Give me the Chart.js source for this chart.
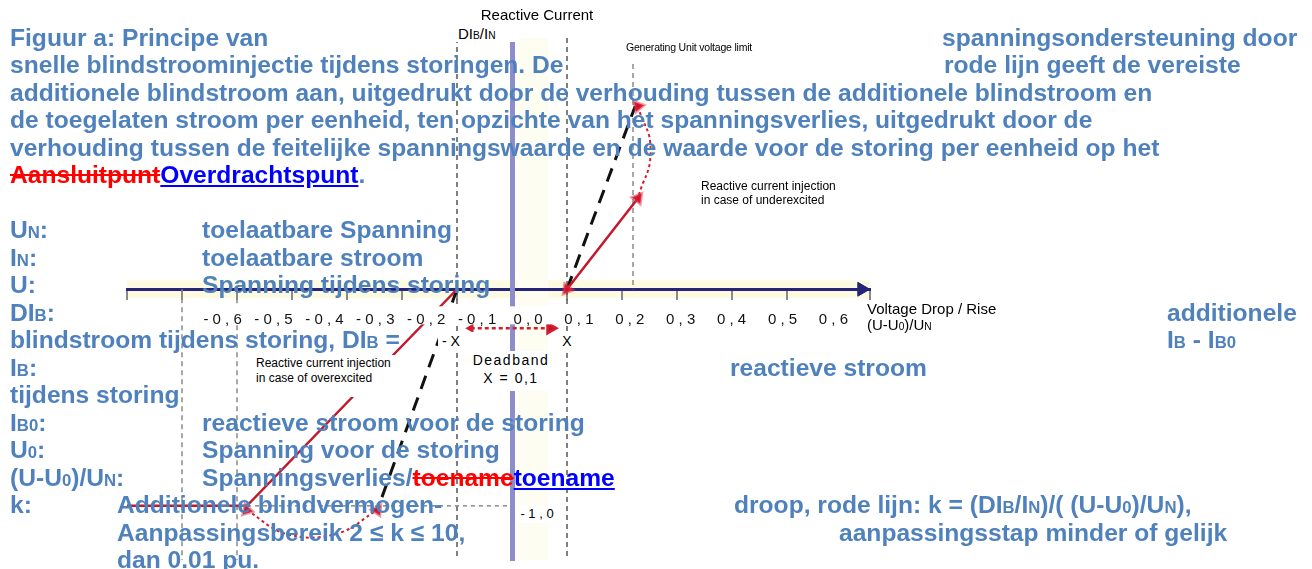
<!DOCTYPE html>
<html>
<head>
<meta charset="utf-8">
<script src="https://cdn.jsdelivr.net/npm/chart.js@4"></script>
<style>
body { margin: 0; background: #fff; }
#wrap { position: relative; width: 1312px; height: 569px; overflow: hidden; background: #fff; }
canvas { position: absolute; left: 0; top: 0; }
.t { position: absolute; white-space: nowrap; font: bold 24.6px "Liberation Sans", Arial, sans-serif; color: #4f81bd; line-height: 27.5px; z-index: 3; }
.s { font-size: 0.68em; }
.del { color: #ff0000; text-decoration: line-through; }
.ins { color: #0000ff; text-decoration: underline; }
.c { position: absolute; white-space: nowrap; font: 15px "Liberation Sans", Arial, sans-serif; color: #000; z-index: 2; }
.w { background: #fff; }
</style>
</head>
<body>
<div id="wrap">
<canvas id="chart" width="1312" height="569"></canvas>

<!-- labels of the diagram -->
<div class="c" style="left:537px;top:14px;transform:translate(-50%,-50%)">Reactive Current</div>
<div class="c w" style="left:456px;top:25px;width:62px;height:17px;line-height:17px;padding-left:2px">DI<span class="s">B</span>/I<span class="s">N</span></div>
<div class="c" style="left:689px;top:47px;transform:translate(-50%,-50%);font-size:10.5px;letter-spacing:-0.2px">Generating Unit voltage limit</div>
<div class="c" style="left:701px;top:179px;font-size:12px;line-height:14px">Reactive current injection<br>in case of underexcited</div>
<div class="c" style="left:867px;top:301px;line-height:16px">Voltage Drop / Rise<br>(U-U<span class="s">0</span>)/U<span class="s">N</span></div>
<div class="c w" style="left:438px;top:332px;width:40px;height:18px;line-height:18px;font-size:14px">&nbsp;- X</div>
<div class="c w" style="left:560px;top:333px;width:14px;height:17px;line-height:17px;font-size:14px;text-align:center">X</div>
<div class="c w" style="left:470px;top:351px;width:82px;height:40px;line-height:18px;font-size:14px;text-align:center;letter-spacing:1.5px">Deadband<br>X = 0,1</div>
<div class="c w" style="left:253px;top:355px;width:142px;height:42px;line-height:15px;font-size:12px;padding:1px 0 0 3px;box-sizing:border-box">Reactive current injection<br>in case of overexcited</div>
<div class="c w" style="left:518px;top:505px;width:38px;height:18px;line-height:18px;font-size:13px;text-align:center">- 1 , 0</div>

<!-- document text -->
<div class="t" style="left:10px;top:23.75px">Figuur a: Principe van</div>
<div class="t" style="left:942px;top:23.75px">spanningsondersteuning door</div>
<div class="t" style="left:10px;top:51.25px">snelle blindstroominjectie tijdens storingen. De</div>
<div class="t" style="left:944px;top:51.25px">rode lijn geeft de vereiste</div>
<div class="t" style="left:10px;top:78.75px">additionele blindstroom aan, uitgedrukt door de verhouding tussen de additionele blindstroom en</div>
<div class="t" style="left:10px;top:106.25px">de toegelaten stroom per eenheid, ten opzichte van het spanningsverlies, uitgedrukt door de</div>
<div class="t" style="left:10px;top:133.75px">verhouding tussen de feitelijke spanningswaarde en de waarde voor de storing per eenheid op het</div>
<div class="t" style="left:10px;top:161.25px"><span class="del">Aansluitpunt</span><span class="ins">Overdrachtspunt</span>.</div>

<div class="t" style="left:10px;top:216.25px">U<span class="s">N</span>:</div>
<div class="t" style="left:202px;top:216.25px">toelaatbare Spanning</div>
<div class="t" style="left:10px;top:243.75px">I<span class="s">N</span>:</div>
<div class="t" style="left:202px;top:243.75px">toelaatbare stroom</div>
<div class="t" style="left:10px;top:271.25px">U:</div>
<div class="t" style="left:202px;top:271.25px">Spanning tijdens storing</div>
<div class="t" style="left:10px;top:298.75px">DI<span class="s">B</span>:</div>
<div class="t" style="left:1167px;top:298.75px">additionele</div>
<div class="t" style="left:10px;top:326.25px">blindstroom tijdens storing, DI<span class="s">B</span> =</div>
<div class="t" style="left:1167px;top:326.25px">I<span class="s">B</span> - I<span class="s">B0</span></div>
<div class="t" style="left:10px;top:353.75px">I<span class="s">B</span>:</div>
<div class="t" style="left:730px;top:353.75px">reactieve stroom</div>
<div class="t" style="left:10px;top:381.25px">tijdens storing</div>
<div class="t" style="left:10px;top:408.75px">I<span class="s">B0</span>:</div>
<div class="t" style="left:202px;top:408.75px">reactieve stroom voor de storing</div>
<div class="t" style="left:10px;top:436.25px">U<span class="s">0</span>:</div>
<div class="t" style="left:202px;top:436.25px">Spanning voor de storing</div>
<div class="t" style="left:10px;top:463.75px">(U-U<span class="s">0</span>)/U<span class="s">N</span>:</div>
<div class="t" style="left:202px;top:463.75px">Spanningsverlies/<span class="del">toename</span><span class="ins">toename</span></div>
<div class="t" style="left:10px;top:491.25px">k:</div>
<div class="t" style="left:117px;top:491.25px">Additionele blindvermogen-</div>
<div class="t" style="left:734px;top:491.25px">droop, rode lijn: k = (DI<span class="s">B</span>/I<span class="s">N</span>)/( (U-U<span class="s">0</span>)/U<span class="s">N</span>),</div>
<div class="t" style="left:117px;top:518.75px">Aanpassingsbereik 2 ≤ k ≤ 10,</div>
<div class="t" style="left:839px;top:518.75px">aanpassingsstap minder of gelijk</div>
<div class="t" style="left:117px;top:546.25px">dan 0.01 pu.</div>
</div>

<script>
// tick labels of the voltage axis
const tickValues = [-0.6, -0.5, -0.4, -0.3, -0.2, -0.1, 0, 0.1, 0.2, 0.3, 0.4, 0.5, 0.6];
const tickLabels = ['- 0 , 6', '- 0 , 5', '- 0 , 4', '- 0 , 3', '- 0 , 2', '- 0 , 1',
                    '0 , 0', '0 , 1', '0 , 2', '0 , 3', '0 , 4', '0 , 5', '0 , 6'];

// red line: required additional reactive current
const underX = [0.1, 0.229];
const underY = [0, 0.42];
const overX = [-0.1, -0.482, -0.7];
const overY = [0, -1.0, -1.0];

// black dashed: generating unit voltage limit
const limUpX = [0.1, 0.224];
const limUpY = [0, 0.845];
const limLowX = [-0.1, -0.245];
const limLowY = [0, -1.02];

// red dotted return curves
const loopUpX = [0.229, 0.252, 0.229];
const loopUpY = [0.845, 0.64, 0.42];
const loopLowX = [-0.482, -0.41, -0.32, -0.245];
const loopLowY = [-1.02, -1.13, -1.13, -1.02];

// red markers
const markX = [0.229, 0.229, -0.482, -0.245, 0.1];
const markY = [0.845, 0.42, -1.02, -1.02, 0];

// deadband arrow
const deadX = [-0.075, 0.07];
const deadY = [-0.18, -0.18];

// dashed guide lines
const guideX = [-0.6, -0.5, -0.1, 0.1, 0.22];
const guideTop = [0, 0, 1.16, 1.16, 1.04];
const guideBottom = [-1.25, -1.25, -1.25, -1.25, 0];

// dotted level at -1,0
const levelX = [-0.7, -0.005];
const levelY = [-1.0, -1.0];

// arrow at the end of the voltage axis
const axisArrowX = [0.636];
const axisArrowY = [0];

// where the row of tick labels sits (in y units)
const LABEL_ROW = -0.102;

const pts = (xs, ys) => xs.map((x, i) => ({ x: x, y: ys[i] }));

const guideSets = guideX.map((gx, i) => ({
    data: pts([gx, gx], [guideTop[i], guideBottom[i]]),
    showLine: true,
    borderColor: i < 2 || i === 4 ? '#8a8a8a' : '#555',
    borderWidth: 1.5,
    borderDash: [5, 4],
    pointRadius: 0,
    order: 10
}));

const bands = {
    id: 'bands',
    beforeDraw(chart) {
        const { ctx, chartArea: a, scales } = chart;
        const y0 = scales.y.getPixelForValue(0);
        const x0 = scales.x.getPixelForValue(0);
        ctx.save();
        ctx.fillStyle = 'rgba(251,250,218,0.8)';
        ctx.fillRect(a.left, y0 - 9, a.width, 18);
        ctx.fillStyle = '#fdfdf2';
        ctx.fillRect(x0 + 6, a.top, 30, a.height);
        ctx.restore();
    },
    afterDatasetsDraw(chart) {
        // white strip behind the tick labels
        const { ctx, scales } = chart;
        const s = scales.xl;
        const top = scales.y.getPixelForValue(LABEL_ROW) - 5;
        const left = s.getPixelForValue(tickValues[0]) - 35;
        const right = s.getPixelForValue(tickValues[tickValues.length - 1]) + 40;
        ctx.save();
        ctx.fillStyle = '#fff';
        ctx.fillRect(left, top, right - left, 18);
        ctx.restore();
    }
};

new Chart(document.getElementById('chart'), {
    type: 'scatter',
    data: {
        datasets: [
            ...guideSets,
            {
                data: pts(levelX, levelY),
                showLine: true, borderColor: '#8a8a8a', borderWidth: 1.5, borderDash: [4, 4],
                pointRadius: 0, order: 9
            },
            {
                data: pts(underX, underY),
                showLine: true, borderColor: '#c4182c', borderWidth: 2.5, pointRadius: 0, order: 3
            },
            {
                data: pts(overX, overY),
                showLine: true, borderColor: '#c4182c', borderWidth: 2.5, pointRadius: 0, order: 3
            },
            {
                data: pts(limUpX, limUpY),
                showLine: true, borderColor: '#111', borderWidth: 3, borderDash: [14, 9], pointRadius: 0, order: 4
            },
            {
                data: pts(limLowX, limLowY),
                showLine: true, borderColor: '#111', borderWidth: 3, borderDash: [14, 9], pointRadius: 0, order: 4
            },
            {
                data: pts(loopUpX, loopUpY),
                showLine: true, tension: 0.5, borderColor: '#d0202e', borderWidth: 2, borderDash: [3, 3],
                pointRadius: 0, order: 3
            },
            {
                data: pts(loopLowX, loopLowY),
                showLine: true, tension: 0.4, borderColor: '#d0202e', borderWidth: 2, borderDash: [3, 3],
                pointRadius: 0, order: 3
            },
            {
                data: pts(markX, markY),
                pointStyle: 'triangle', pointRadius: 6,
                rotation: [200, 38, 223, 35, 218],
                backgroundColor: '#d0102a', borderColor: 'rgba(225,50,70,0.5)', borderWidth: 3, order: 1
            },
            {
                data: pts(deadX, deadY),
                showLine: true, borderColor: '#d0202e', borderWidth: 2.5, borderDash: [4, 3],
                pointStyle: 'triangle', pointRadius: [3, 6], rotation: [270, 90],
                backgroundColor: '#c8102a', order: 2
            },
            {
                data: pts(axisArrowX, axisArrowY),
                pointStyle: 'triangle', pointRadius: 8, rotation: 90,
                backgroundColor: '#26247a', borderColor: '#26247a', borderWidth: 1, clip: false, order: 0
            }
        ]
    },
    options: {
        responsive: false,
        animation: false,
        devicePixelRatio: 1,
        layout: { padding: { left: 127, right: 442.5, top: 38, bottom: 1 } },
        plugins: { legend: { display: false }, tooltip: { enabled: false } },
        scales: {
            x: {
                type: 'linear', min: -0.7, max: 0.65, position: { y: 0 },
                grid: { drawOnChartArea: false, drawTicks: true, tickLength: 9, color: '#8a8a8a', lineWidth: 2 },
                border: { color: '#26247a', width: 3 },
                ticks: { display: false, stepSize: 0.1 }
            },
            xl: {
                axis: 'x', type: 'linear', min: -0.7878, max: 0.6709, position: { y: LABEL_ROW },
                grid: { display: false, drawTicks: false },
                border: { display: false },
                afterBuildTicks: s => { s.ticks = tickValues.map(v => ({ value: v })); },
                ticks: {
                    z: 2, autoSkip: false, maxRotation: 0, padding: 0, color: '#111',
                    font: { size: 15, family: '"Liberation Sans", Arial, sans-serif' },
                    callback: (v, i) => tickLabels[i]
                }
            },
            y: {
                type: 'linear', min: -1.25, max: 1.16, position: { x: 0 },
                grid: { drawOnChartArea: false, drawTicks: false },
                border: { color: '#8d8dca', width: 5 },
                ticks: { display: false }
            }
        }
    },
    plugins: [bands]
});
</script>
</body>
</html>
